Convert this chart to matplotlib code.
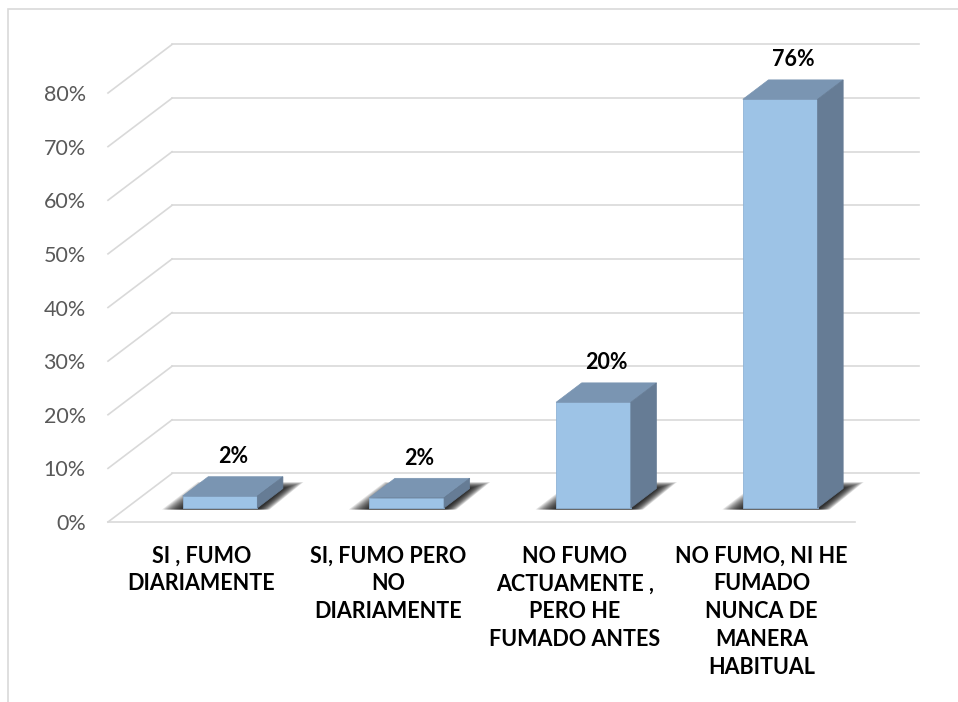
import numpy as np
import matplotlib.pyplot as plt
from matplotlib.patches import Polygon, Rectangle

plt.rcParams['font.family'] = ['Lato', 'DejaVu Sans']

categorias = [
    "SI , FUMO\nDIARIAMENTE",
    "SI, FUMO PERO\nNO\nDIARIAMENTE",
    "NO FUMO\nACTUAMENTE ,\nPERO HE\nFUMADO ANTES",
    "NO FUMO, NI HE\nFUMADO\nNUNCA DE\nMANERA\nHABITUAL",
]
valores = [0.022, 0.019, 0.197, 0.762]
ticks_y = [0.0, 0.1, 0.2, 0.3, 0.4, 0.5, 0.6, 0.7, 0.8]
ticks_txt = ["0%", "10%", "20%", "30%", "40%", "50%", "60%", "70%", "80%"]

gris = "#D9D9D9"
frente = "#9DC3E6"
techo = "#7A95B2"
lado = "#667C95"

# profundidad del "3D" en unidades de datos
DX, DY = 0.343, 0.0905
f0, f1 = 0.29, 0.69   # fraccion de profundidad donde empieza / acaba la barra
W = 0.40

fig = plt.figure(figsize=(9.58, 7.02), dpi=100)
fig.patches.append(Rectangle((8 / 958, -0.05), 1.2, 1.05 - 9 / 702,
                             transform=fig.transFigure, fill=False,
                             edgecolor=gris, lw=1.2))

ax = fig.add_axes([108 / 958, 180 / 702, 747 / 958, 429 / 702])
ax.set_xlim(-0.5, 3.5)
ax.set_ylim(0, 0.8)
for s in ax.spines.values():
    s.set_visible(False)

# pared del fondo y pared izquierda
for t in ticks_y:
    ax.plot([-0.5, -0.5 + DX], [t, t + DY], color=gris, lw=1.2, clip_on=False, zorder=1)
    ax.plot([-0.5 + DX, 3.5 + DX], [t + DY, t + DY], color=gris, lw=1.2, clip_on=False, zorder=1)
ax.plot([-0.5, 3.5], [0, 0], color=gris, lw=1.2, clip_on=False, zorder=1)

x = np.arange(len(valores))
xb = x + f0 * DX
ddx, ddy = (f1 - f0) * DX, (f1 - f0) * DY
base = f0 * DY

# sombras
n = 14
for xi in xb:
    l, r = xi - W / 2, xi + W / 2
    for k in range(n):
        e = 0.11 * (1 - k / n)
        ey = 0.012 * (1 - k / n)
        sh = Polygon([(l - e, base - 0.003), (r + e * 0.6, base - 0.003),
                      (r + ddx + e, base + ddy + ey), (l + ddx - e * 0.5, base + ddy + ey)],
                     closed=True, facecolor="black", edgecolor="none",
                     alpha=0.11, zorder=2, clip_on=False)
        ax.add_patch(sh)

ax.bar(xb, valores, width=W, bottom=base, color=frente, edgecolor="#8FB3D6",
       lw=0.6, zorder=4)

for xi, v in zip(xb, valores):
    l, r = xi - W / 2, xi + W / 2
    t = base + v
    ax.add_patch(Polygon([(l, t), (r, t), (r + ddx, t + ddy), (l + ddx, t + ddy)],
                         closed=True, facecolor=techo, edgecolor=techo, lw=0.5,
                         zorder=4, clip_on=False))
    ax.add_patch(Polygon([(r, base), (r + ddx, base + ddy), (r + ddx, t + ddy), (r, t)],
                         closed=True, facecolor=lado, edgecolor=lado, lw=0.5,
                         zorder=4, clip_on=False))
    ax.annotate(f"{v:.0%}", (xi + ddx / 2, t + ddy), xytext=(0, 7),
                textcoords="offset points", ha="center", va="bottom",
                fontsize=15.5, fontweight="bold", color="black", zorder=5,
                annotation_clip=False)

ax.set_yticks(ticks_y, ticks_txt)
ax.set_xticks(x, categorias)
ax.tick_params(axis="y", length=0, pad=16, labelsize=15.5, labelcolor="#595959")
ax.tick_params(axis="x", length=0, pad=17, labelsize=15.5)
for lab in ax.get_xticklabels():
    lab.set_fontweight("bold")
    lab.set_linespacing(1.4)

fig.savefig("out.png", dpi=100)
